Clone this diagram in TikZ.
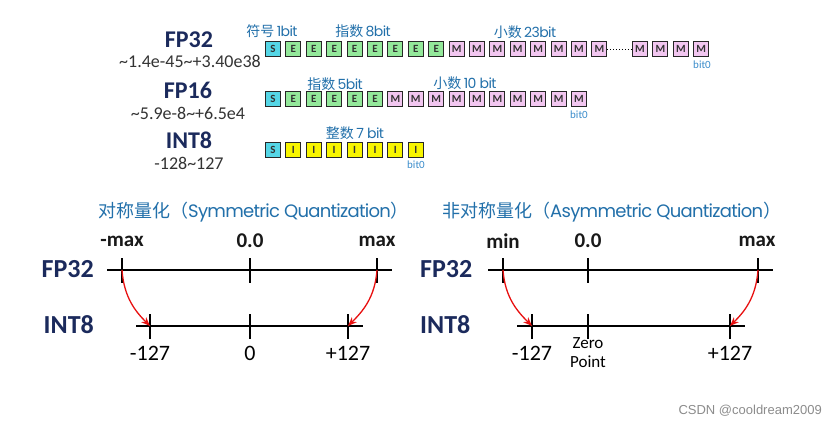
\documentclass[tikz,border=0pt]{standalone}
\usepackage{fontspec}
\setmainfont{Carlito}
\newfontfamily\cjk{Noto Sans CJK SC}
\newfontfamily\geo{Poppins}[LetterSpace=-4]
\newfontfamily\libs{Liberation Sans}
\usetikzlibrary{arrows.meta}
\definecolor{navy}{HTML}{1B2A5C}
\definecolor{hblue}{HTML}{2270AA}
\definecolor{bblue}{HTML}{3A8CCB}
\definecolor{sC}{HTML}{55D6E6}
\definecolor{eC}{HTML}{93E89A}
\definecolor{mC}{HTML}{F2C6F0}
\definecolor{iC}{HTML}{F8F500}
\begin{document}
\begin{tikzpicture}[x=1pt,y=-1pt,
  bitbox/.style={draw=black!85, line width=1.1pt, minimum width=15pt, minimum height=15pt, inner sep=0pt, font=\fontsize{11}{11}\selectfont\bfseries, text=black!80},
  fmttitle/.style={font=\fontsize{24}{24}\selectfont\bfseries, text=navy},
  rangetxt/.style={font=\fontsize{18}{18}\selectfont, text=black!80},
  bitlab/.style={font=\fontsize{14}{14}\selectfont, text=hblue, inner sep=0pt},
  bitzero/.style={font=\fontsize{11}{11}\selectfont, text=bblue, inner sep=0pt},
  headtxt/.style={font=\fontsize{18}{18}\selectfont, text=hblue, inner sep=0pt},
  vallab/.style={font=\fontsize{21}{21}\selectfont\bfseries, text=black!90, inner sep=0pt},
  axlab/.style={font=\fontsize{26}{26}\selectfont\bfseries, text=navy, inner sep=0pt},
  numlab/.style={font=\fontsize{22}{22}\selectfont, text=black, inner sep=0pt},
  axisline/.style={line width=2.5pt, black},
  tickline/.style={line width=1.5pt, black},
  redarrow/.style={draw={rgb,255:red,232;green,16;blue,16}, line width=1.3pt, -{Stealth[length=9pt,width=7pt]}}
]
\useasboundingbox (0,0) rectangle (838,426);
\fill[white] (0,0) rectangle (838,426);

% ---------- top: formats ----------
\node[fmttitle] (tfp32) at (189,40) {FP32};
\node[rangetxt] (rfp32) at (190,61) {\textasciitilde1.4e-45\textasciitilde+3.40e38};
\node[fmttitle] (tfp16) at (188,90) {FP16};
\node[rangetxt] (rfp16) at (188,113) {\textasciitilde5.9e-8\textasciitilde+6.5e4};
\node[fmttitle] (tint8) at (189,140) {INT8};
\node[rangetxt] (rint8) at (189,163) {-128\textasciitilde127};

% FP32 row
\node[bitbox, fill=sC] (a0) at (273,49) {S};
\foreach \i in {1,...,8} \node[bitbox, fill=eC] (a\i) at ({273+20.4*\i},49) {E};
\foreach \i in {9,...,16} \node[bitbox, fill=mC] (a\i) at ({273+20.4*\i},49) {M};
\foreach \i in {1,...,4} \node[bitbox, fill=mC] (b\i) at ({619.6+20.4*\i},49) {M};
\draw[dotted, line width=0.9pt] (a16.east) -- (b1.west);
\node[bitlab] (l1) at (272,31) {\cjk 符号\,\geo 1bit};
\node[bitlab] (l2) at (363,31) {\cjk 指数\,\geo 8bit};
\node[bitlab] (l3) at (525,32) {\cjk 小数\,\geo 23bit};
\node[bitzero] (z1) at (702,65) {bit0};

% FP16 row
\node[bitbox, fill=sC] (c0) at (273,99) {S};
\foreach \i in {1,...,5} \node[bitbox, fill=eC] (c\i) at ({273+20.4*\i},99) {E};
\foreach \i in {6,...,15} \node[bitbox, fill=mC] (c\i) at ({273+20.4*\i},99) {M};
\node[bitlab] (l4) at (335,84) {\cjk 指数\,\geo 5bit};
\node[bitlab] (l5) at (465,83) {\cjk 小数\,\geo 10 bit};
\node[bitzero] (z2) at (579,115) {bit0};

% INT8 row
\node[bitbox, fill=sC] (d0) at (273,150) {S};
\foreach \i in {1,...,7} \node[bitbox, fill=iC] (d\i) at ({273+20.4*\i},150) {I};
\node[bitlab] (l6) at (355,133) {\cjk 整数\,\geo 7 bit};
\node[bitzero] (z3) at (416,165) {bit0};

% ---------- symmetric ----------
\node[headtxt, anchor=west] (hs) at (98,212) {\cjk 对称量化（\geo Symmetric Quantization\cjk ）};
\node[vallab] (vs1) at (122,241) {-max};
\node[vallab] (vs2) at (250,241) {0.0};
\node[vallab] (vs3) at (377,241) {max};
\node[axlab, anchor=east] (fs) at (94,269) {FP32};
\node[axlab, anchor=east] (is) at (94,325) {INT8};

\coordinate (sf0) at (107,270); \coordinate (sf4) at (392,270);
\coordinate (sf1) at (122,270); \coordinate (sf2) at (250,270); \coordinate (sf3) at (377,270);
\coordinate (si0) at (136,326); \coordinate (si4) at (363,326);
\coordinate (si1) at (150,326); \coordinate (si2) at (250,326); \coordinate (si3) at (348,326);
\draw[axisline] (sf0) -- (sf4);
\draw[axisline] (si0) -- (si4);
\foreach \p in {sf1,sf2,sf3,si1,si2,si3} \draw[tickline] ([yshift=12pt]\p) -- ([yshift=-13pt]\p);
\draw[redarrow] (sf1) .. controls +(2,28) and +(-14,-14) .. (si1);
\draw[redarrow] (sf3) .. controls +(-2,28) and +(14,-14) .. (si3);
\node[numlab] (ns1) at (150,353) {-127};
\node[numlab] (ns2) at (250,353) {0};
\node[numlab] (ns3) at (348,353) {+127};

% ---------- asymmetric ----------
\node[headtxt, anchor=west] (ha) at (442,212) {\cjk 非对称量化（\geo Asymmetric Quantization\cjk ）};
\node[vallab] (va1) at (503,241) {min};
\node[vallab] (va2) at (588,241) {0.0};
\node[vallab] (va3) at (757,241) {max};
\node[axlab, anchor=west] (fa) at (420,269) {FP32};
\node[axlab, anchor=west] (ia) at (420,325) {INT8};

\coordinate (af0) at (488,270); \coordinate (af4) at (773,270);
\coordinate (af1) at (503,270); \coordinate (af2) at (588,270); \coordinate (af3) at (758,270);
\coordinate (ai0) at (517,326); \coordinate (ai4) at (745,326);
\coordinate (ai1) at (532,326); \coordinate (ai2) at (588,326); \coordinate (ai3) at (730,326);
\draw[axisline] (af0) -- (af4);
\draw[axisline] (ai0) -- (ai4);
\foreach \p in {af1,af2,af3,ai1,ai2,ai3} \draw[tickline] ([yshift=12pt]\p) -- ([yshift=-13pt]\p);
\draw[redarrow] (af1) .. controls +(2,28) and +(-14,-14) .. (ai1);
\draw[redarrow] (af3) .. controls +(-2,28) and +(14,-14) .. (ai3);
\node[numlab] (na1) at (532,353) {-127};
\node[numlab, align=center, font=\fontsize{17}{19}\selectfont] (na2) at (588,353) {Zero\\Point};
\node[numlab] (na3) at (730,353) {+127};

% watermark
\node[font=\libs\fontsize{13}{13}\selectfont, text=black!45, anchor=east, inner sep=0pt] (wm) at (822,411) {CSDN @cooldream2009};
\end{tikzpicture}
\end{document}
